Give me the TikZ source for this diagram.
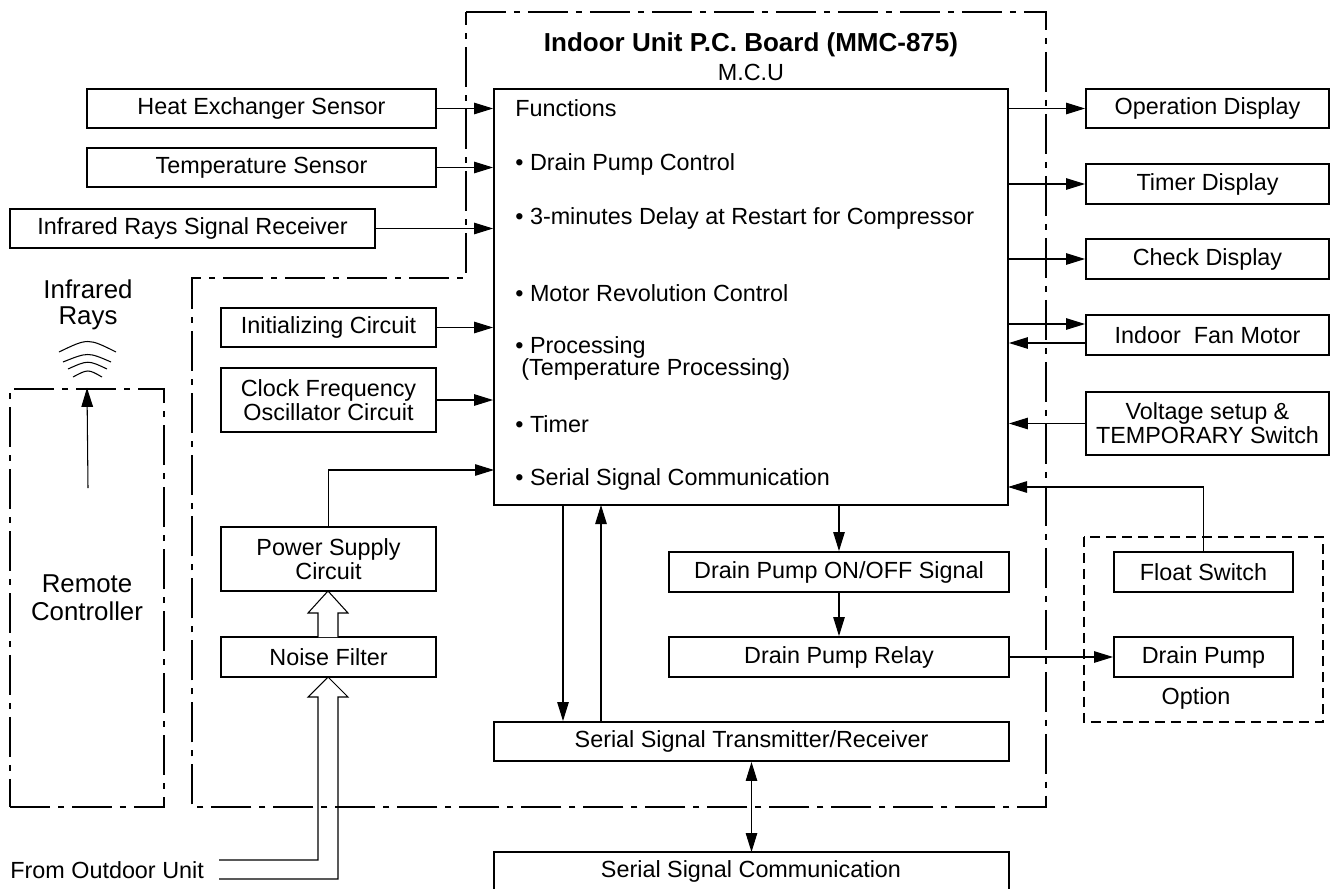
\documentclass[tikz,border=0pt]{standalone}
\usepackage{fontspec}
\setmainfont{Liberation Sans}
\usetikzlibrary{arrows.meta}
\tikzset{
  blk/.style={draw, line width=1.1pt, inner sep=0pt, align=center, font=\fontsize{13.3}{13.6}\selectfont},
  txt/.style={inner sep=0pt, align=center, font=\fontsize{13.3}{13.6}\selectfont},
  wire/.style={line width=0.6pt},
  pcbline/.style={line width=1.4pt, dash pattern=on 0.8cm off 0.16cm on 0.12cm off 0.16cm},
  optline/.style={line width=1.1pt, dash pattern=on 0.2cm off 0.12cm},
  >={Triangle[length=3.8mm,width=2.3mm]}
}
\begin{document}
\begin{tikzpicture}[x=0.02cm, y=-0.02cm]
\useasboundingbox (0,0) rectangle (1332,889);
\draw[pcbline] (466,12) -- (1046,12) -- (1046,807) -- (192,807) -- (192,278) -- (466,278) -- cycle;
\node[txt, font=\fontsize{14.8}{16}\selectfont\bfseries] (title) at (751,45) {Indoor Unit P.C. Board (MMC-875)};
\node[txt] (mcuname) at (751,72) {M.C.U};
\node[blk, minimum width=10.28cm, minimum height=8.32cm] (mcu) at (751,297) {};
\foreach \x/\y/\t [count=\i] in {515/116/Functions, 515/170/• Drain Pump Control,
  515/224/• 3-minutes Delay at Restart for Compressor, 515/301/• Motor Revolution Control,
  515/353/• Processing, 521/375/(Temperature Processing), 515/432/• Timer,
  515/485/• Serial Signal Communication}
  \node[txt, anchor=base west] (fn\i) at (\x,\y) {\t};

\node[blk, minimum width=6.98cm, minimum height=0.78cm] (heat) at (261.5,108.5) {Heat Exchanger Sensor};
\node[blk, minimum width=6.98cm, minimum height=0.78cm] (temp) at (261.5,167.5) {Temperature Sensor};
\node[blk, minimum width=7.30cm, minimum height=0.78cm] (irrecv) at (192.5,228.5) {Infrared Rays Signal Receiver};
\node[blk, minimum width=4.30cm, minimum height=0.78cm] (init) at (328.5,327.5) {Initializing Circuit};
\node[blk, minimum width=4.30cm, minimum height=1.28cm] (clock) at (328.5,400) {Clock Frequency\\Oscillator Circuit};
\node[blk, minimum width=4.30cm, minimum height=1.28cm] (power) at (328.5,559) {Power Supply\\Circuit};
\node[blk, minimum width=4.30cm, minimum height=0.80cm] (noise) at (328.5,657) {Noise Filter};
\foreach \n in {heat,temp,irrecv,init,clock} {\draw[wire,->] (\n.east) -- (\n.east -| mcu.west);}
\coordinate (pwrin) at (494,470);
\draw[wire,->] (power.north) |- (pwrin);

\node[blk, minimum width=4.86cm, minimum height=0.78cm] (opdisp) at (1207.5,108.5) {Operation Display};
\node[blk, minimum width=4.86cm, minimum height=0.80cm] (timdisp) at (1207.5,184) {Timer Display};
\node[blk, minimum width=4.86cm, minimum height=0.80cm] (chkdisp) at (1207.5,259) {Check Display};
\node[blk, minimum width=4.86cm, minimum height=0.80cm] (fan) at (1207.5,335) {Indoor\ \ Fan Motor};
\node[blk, minimum width=4.86cm, minimum height=1.26cm] (volt) at (1207.5,423.5) {Voltage setup \&\\TEMPORARY Switch};
\foreach \n in {opdisp,timdisp,chkdisp} {\draw[wire,->] (\n.west -| mcu.east) -- (\n.west);}
\coordinate (fanout) at ([yshift=0.22cm]fan.west);
\coordinate (fanin) at ([yshift=-0.16cm]fan.west);
\draw[wire,->] (fanout -| mcu.east) -- (fanout);
\draw[wire,->] (fanin) -- (fanin -| mcu.east);
\draw[wire,->] (volt.west) -- (volt.west -| mcu.east);

\node[blk, minimum width=6.80cm, minimum height=0.80cm] (onoff) at (839,572) {Drain Pump ON/OFF Signal};
\node[blk, minimum width=6.80cm, minimum height=0.80cm] (relay) at (839,657) {Drain Pump Relay};
\draw[optline] (1084,537) rectangle (1323,722);
\node[blk, minimum width=3.58cm, minimum height=0.80cm] (float) at (1203.5,572) {Float Switch};
\node[blk, minimum width=3.58cm, minimum height=0.80cm] (pump) at (1203.5,657) {Drain Pump};
\node[txt] (option) at (1196,698) {Option};
\draw[wire,->] (onoff.north |- mcu.south) -- (onoff.north);
\draw[wire,->] (onoff.south) -- (relay.north);
\draw[wire,->] (relay.east) -- (pump.west);
\coordinate (floatin) at (1008,487);
\draw[wire,->] (float.north) |- (floatin);

\node[blk, minimum width=10.30cm, minimum height=0.78cm] (trx) at (751.5,741.5) {Serial Signal Transmitter/Receiver};
\coordinate (txdn) at (563,505);
\coordinate (rxup) at (601,505);
\draw[wire,->] (txdn) -- (txdn |- trx.north);
\draw[wire,->] (rxup |- trx.north) -- (rxup);
\draw[line width=1.1pt] (494,889) -- (494,852) -- (1009,852) -- (1009,889);
\node[txt] (sercom) at (751,871) {Serial Signal Communication};
\coordinate (sctop) at (751.5,852);
\draw[wire,<->] (trx.south) -- (sctop);

\draw[wire, fill=white] (318,637) -- (318,613) -- (308,613) -- (328,591) -- (348,613) -- (338,613) -- (338,637);
\draw[wire] (219,860) -- (318,860) -- (318,697) -- (308,697) -- (328,677) -- (348,697) -- (338,697) -- (338,879) -- (219,879);
\node[txt, anchor=west] (outdoor) at (10,870) {From Outdoor Unit};

\node[draw, pcbline, minimum width=3.08cm, minimum height=8.36cm, align=center, font=\fontsize{14.7}{15.9}\selectfont] (remote) at (87,598) {Remote\\Controller};
\node[txt, font=\fontsize{14.7}{14.7}\selectfont] (irlabel) at (88,305) {Infrared\\Rays};
\coordinate (rcbase) at (88,488);
\draw[wire,->] (rcbase) -- (remote.north);
\draw[wire] (59,352) .. controls (88,338) .. (116,352);
\draw[wire] (63,362) .. controls (88,352) .. (111,362);
\draw[wire] (68,369) .. controls (88,360) .. (107,369);
\draw[wire] (73,377) .. controls (88,369) .. (102,377);
\end{tikzpicture}
\end{document}
